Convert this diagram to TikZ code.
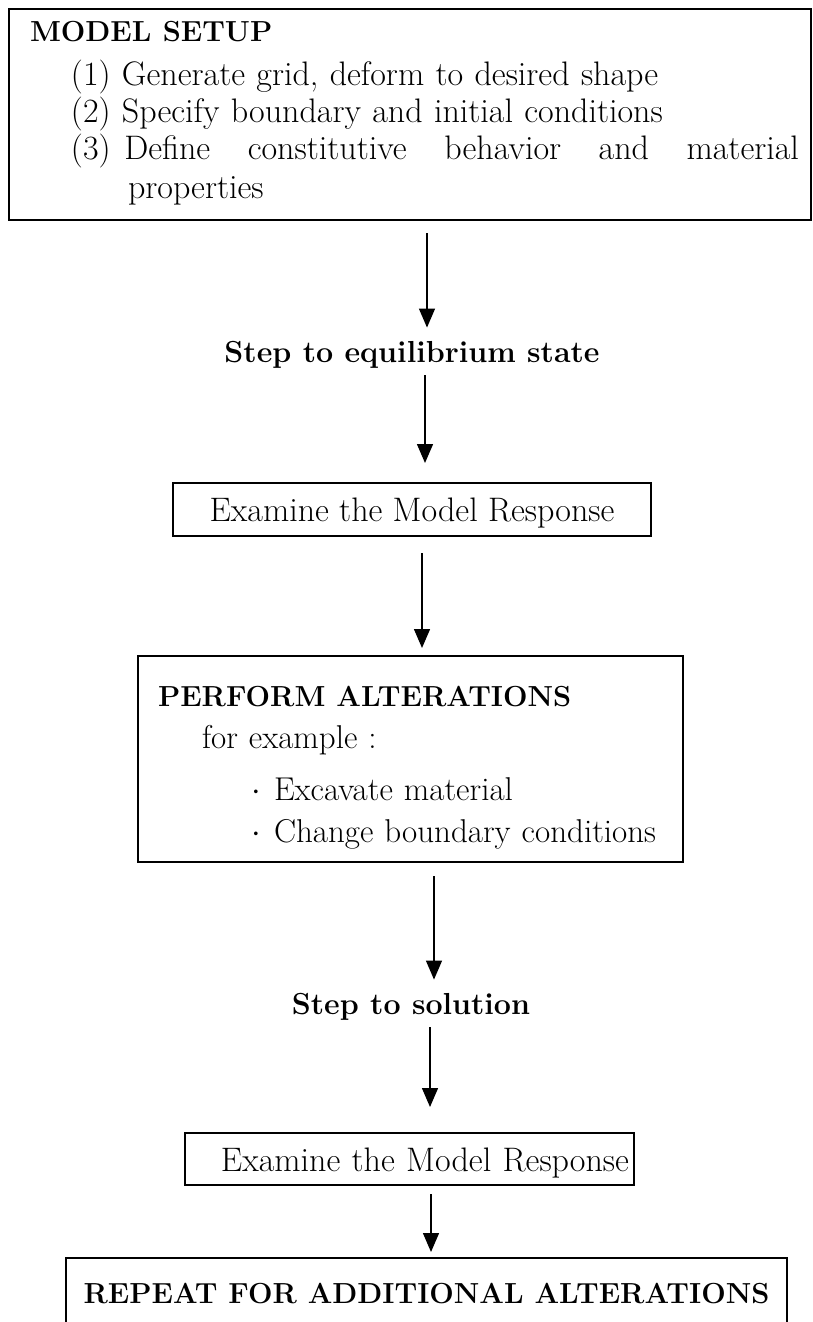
\documentclass[tikz,border=0pt]{standalone}
\usepackage{tikz}
\usetikzlibrary{arrows.meta}

\tikzset{
  box/.style={draw, rectangle, line width=1pt, inner sep=0pt},
  steplabel/.style={inner sep=0pt, font=\fontsize{15.2}{18}\selectfont\bfseries},
  flow/.style={-{Triangle[length=9.5pt,width=8pt]}, line width=0.7pt},
}

\begin{document}
\begin{tikzpicture}[x=0.5pt,y=-0.5pt]
	\clip (0,0) rectangle (813,1322);

	\node[box, anchor=north west, text width=380pt, inner xsep=10.5pt, inner ysep=4pt, align=left, font=\fontsize{17}{18.5}\selectfont] (setup) at (8,8) {%
		\rule{0pt}{12.5pt}{\fontsize{14.5}{18.5}\selectfont\bfseries MODEL SETUP}\\[3.5pt]
		\hspace*{20.5pt}(1) Generate grid, deform to desired shape\\
		\hspace*{20.5pt}(2) Specify boundary and initial conditions\\
		\hspace*{20.5pt}\hbox to 364pt{(3)\hspace{0.4em plus 0.5fil}Define\hfill constitutive\hfill behavior\hfill and\hfill material}\\[1pt]
		\hspace*{49pt}properties\rule[-6.5pt]{0pt}{6.5pt}};
	\node[steplabel] (step1) at (412,354.5) {Step to equilibrium state};
	\node[box, minimum width=239pt, minimum height=26.5pt, text height=15pt, text depth=3pt, font=\fontsize{17}{19}\selectfont] (exam1) at (412,509.5) {Examine the Model Response};
	\node[box, anchor=north west, text width=252.5pt, inner xsep=10pt, inner ysep=4pt, align=left, font=\fontsize{16.5}{21}\selectfont] (alter) at (137,655) {%
		\rule{0pt}{21pt}{\fontsize{14.5}{21}\selectfont\bfseries PERFORM ALTERATIONS}\\
		\hspace*{22pt}for example :\\[5pt]
		\hspace*{46.5pt}\makebox[11.5pt][l]{$\cdot$}Excavate material\\
		\hspace*{46.5pt}\makebox[11.5pt][l]{$\cdot$}\mbox{Change boundary conditions}\rule[-6pt]{0pt}{6pt}};
	\node[steplabel] (step2) at (411,1006.5) {Step to solution};
	\node[box, minimum width=224.5pt, minimum height=26pt, text width=219.5pt, align=right, text height=15pt, text depth=3pt, font=\fontsize{17}{19}\selectfont] (exam2) at (409.5,1159) {Examine the Model Response};
	\node[box, minimum width=360.5pt, minimum height=36pt, font=\fontsize{14.5}{17}\selectfont\bfseries] (repeat) at (426.5,1294) {REPEAT FOR ADDITIONAL ALTERATIONS};

	% setup -> equilibrium
	\draw[flow, shorten <=6pt, shorten >=6.5pt] ([xshift=8.5pt]setup.south) -- ([xshift=8.5pt]setup.south |- step1.north);
	\draw[flow, shorten <=3.5pt, shorten >=9.5pt] ([xshift=6.5pt]step1.south) -- ([xshift=6.5pt]step1.south |- exam1.north);
	% response -> alterations
	\draw[flow, shorten <=8pt, shorten >=3.5pt] ([xshift=5pt]exam1.south) -- ([xshift=5pt]exam1.south |- alter.north);
	% alterations -> solution
	\draw[flow, shorten <=6.5pt, shorten >=6.5pt] ([xshift=11.75pt]alter.south) -- ([xshift=11.75pt]alter.south |- step2.north);
	\draw[flow, shorten <=3.5pt, shorten >=12.5pt] ([xshift=9.5pt]step2.south) -- ([xshift=9.5pt]step2.south |- exam2.north);
	% response -> repeat
	\draw[flow, shorten <=4pt, shorten >=2.5pt] ([xshift=10.75pt]exam2.south) -- ([xshift=10.75pt]exam2.south |- repeat.north);
\end{tikzpicture}
\end{document}
